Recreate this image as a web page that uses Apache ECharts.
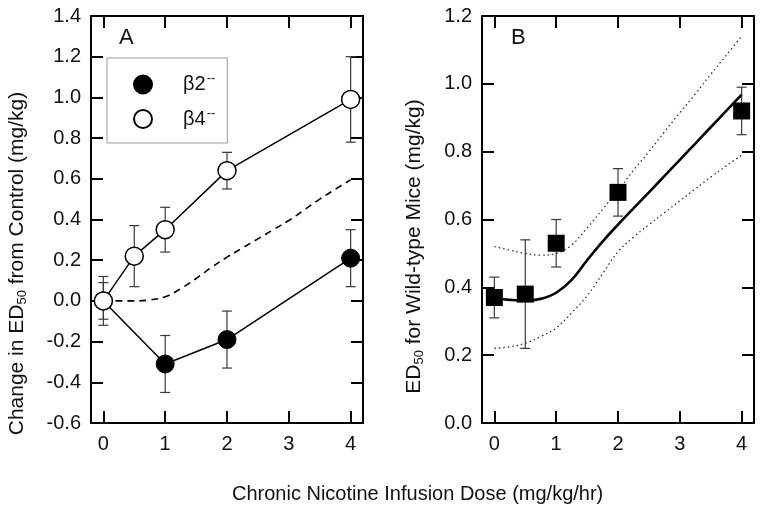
<!DOCTYPE html>
<html><head><meta charset="utf-8">
<script src="https://cdn.jsdelivr.net/npm/echarts@6/dist/echarts.min.js"></script>
<style>html,body{margin:0;padding:0;background:#fff}#c{width:764px;height:516px}</style>
</head><body><div id="c"></div>
<script>
// ---- data ----
const doseTicks = [0, 1, 2, 3, 4];
const aYTicks = [-0.6, -0.4, -0.2, 0, 0.2, 0.4, 0.6, 0.8, 1.0, 1.2, 1.4];
const bYTicks = [0, 0.2, 0.4, 0.6, 0.8, 1.0, 1.2];

const beta2Dose = [0, 1, 2, 4];
const beta2Mean = [0, -0.31, -0.19, 0.21];
const beta2Err = [0.09, 0.14, 0.14, 0.14];

const beta4Dose = [0, 0.5, 1, 2, 4];
const beta4Mean = [0, 0.22, 0.35, 0.64, 0.99];
const beta4Err = [0.12, 0.15, 0.11, 0.09, 0.21];

const curveDose = [0, 0.25, 0.5, 0.75, 1, 1.25, 1.5, 1.75, 2, 2.25, 2.5, 2.75, 3, 3.25, 3.5, 3.75, 4];
const predChange = [0, 0, 0, 0.005, 0.02, 0.06, 0.11, 0.165, 0.215, 0.26, 0.305, 0.35, 0.395, 0.447, 0.5, 0.548, 0.595];

const wtDose = [0, 0.5, 1, 2, 4];
const wtMean = [0.37, 0.38, 0.53, 0.68, 0.92];
const wtErr = [0.06, 0.16, 0.07, 0.07, 0.07];

const fitMean = [0.367, 0.363, 0.361, 0.366, 0.384, 0.422, 0.48, 0.535, 0.585, 0.633, 0.68, 0.728, 0.776, 0.824, 0.872, 0.92, 0.968];
const fitUpper = [0.52, 0.51, 0.50, 0.495, 0.50, 0.525, 0.575, 0.63, 0.685, 0.745, 0.80, 0.858, 0.915, 0.97, 1.028, 1.084, 1.14];
const fitLower = [0.22, 0.225, 0.235, 0.255, 0.28, 0.325, 0.375, 0.44, 0.505, 0.548, 0.585, 0.62, 0.655, 0.69, 0.725, 0.758, 0.79];

// ---- helpers ----
const FONT = "'Liberation Sans', Arial, sans-serif";
const zip = (xs, ys) => xs.map((x, i) => [x, ys[i]]);

function errorBars(xs, means, errs, axisIdx) {
  return {
    type: 'custom', xAxisIndex: axisIdx, yAxisIndex: axisIdx, z: 1, silent: true,
    encode: { x: 0, y: [1, 2] },
    data: xs.map((x, i) => [x, means[i] - errs[i], means[i] + errs[i]]),
    renderItem: (params, api) => {
      const lo = api.coord([api.value(0), api.value(1)]);
      const hi = api.coord([api.value(0), api.value(2)]);
      const w = 5;
      const st = { stroke: '#3a3a3a', lineWidth: 1.2 };
      return { type: 'group', children: [
        { type: 'line', shape: { x1: lo[0], y1: lo[1], x2: hi[0], y2: hi[1] }, style: st },
        { type: 'line', shape: { x1: lo[0] - w, y1: lo[1], x2: lo[0] + w, y2: lo[1] }, style: st },
        { type: 'line', shape: { x1: hi[0] - w, y1: hi[1], x2: hi[0] + w, y2: hi[1] }, style: st }
      ] };
    }
  };
}

function xAx(grid, pos, labels) {
  return {
    type: 'value', gridIndex: grid, position: pos, min: -0.2, max: 4.2,
    axisLine: { show: true, onZero: false, lineStyle: { color: '#000', width: 2 } },
    axisTick: { show: true, inside: true, length: 12, customValues: doseTicks, lineStyle: { color: '#000', width: 2 } },
    axisLabel: { show: labels, customValues: doseTicks, margin: 11, fontSize: 20, color: '#111', fontFamily: FONT },
    splitLine: { show: false }
  };
}
function yAx(grid, pos, labels, min, max, ticks, name, gap, shift) {
  const ax = {
    type: 'value', gridIndex: grid, position: pos, min: min, max: max,
    axisLine: { show: true, onZero: false, lineStyle: { color: '#000', width: 2 } },
    axisTick: { show: true, inside: true, length: 12, customValues: ticks, lineStyle: { color: '#000', width: 2 } },
    axisLabel: { show: labels, customValues: ticks, margin: 10, fontSize: 20, color: '#111', fontFamily: FONT,
      formatter: v => v.toFixed(1) },
    splitLine: { show: false }
  };
  if (name) {
    ax.name = name;
    ax.nameLocation = 'middle';
    ax.nameGap = gap;
    ax.nameTextStyle = { color: '#111', fontFamily: FONT, padding: [0, shift, 0, 0], rich: {
      n: { fontSize: 21, color: '#111', fontFamily: FONT },
      sub: { fontSize: 13, color: '#111', fontFamily: FONT, padding: [10, 0, 0, 0] }
    } };
  }
  return ax;
}

const chart = echarts.init(document.getElementById('c'), null, { renderer: 'canvas' });
chart.setOption({
  animation: false,
  backgroundColor: '#fff',
  textStyle: { fontFamily: FONT },
  title: [
    { text: 'A', left: 119, top: 27, padding: 0, textStyle: { fontSize: 22, fontWeight: 'normal', color: '#111', fontFamily: FONT } },
    { text: 'B', left: 511, top: 27, padding: 0, textStyle: { fontSize: 22, fontWeight: 'normal', color: '#111', fontFamily: FONT } },
    { text: 'Chronic Nicotine Infusion Dose (mg/kg/hr)', left: 232, top: 484, padding: 0,
      textStyle: { fontSize: 20, fontWeight: 'normal', color: '#111', fontFamily: FONT } }
  ],
  legend: {
    left: 107, top: 58, orient: 'vertical', data: ['β2', 'β4'], icon: 'circle',
    itemWidth: 18, itemHeight: 18, itemGap: 12, padding: [14, 12, 14, 26],
    borderColor: '#999', borderWidth: 1, selectedMode: false,
    formatter: n => '{b|' + n + '}{s|--}',
    textStyle: { rich: {
      b: { fontSize: 20, color: '#111', fontFamily: FONT, padding: [0, 0, 0, 26] },
      s: { fontSize: 13, color: '#111', fontFamily: FONT, padding: [0, 0, 12, 1] }
    } }
  },
  grid: [
    { left: 91, top: 16, width: 272, height: 407 },
    { left: 482, top: 16, width: 272, height: 407 }
  ],
  xAxis: [xAx(0, 'bottom', true), xAx(1, 'bottom', true), xAx(0, 'top', false), xAx(1, 'top', false)],
  yAxis: [
    yAx(0, 'left', true, -0.6, 1.4, aYTicks, '{n|Change in ED}{sub|50}{n| from Control (mg/kg)}', 62, 88),
    yAx(1, 'left', true, 0, 1.2, bYTicks, '{n|ED}{sub|50}{n| for Wild-type Mice (mg/kg)}', 56, 54),
    yAx(0, 'right', false, -0.6, 1.4, aYTicks),
    yAx(1, 'right', false, 0, 1.2, bYTicks)
  ],
  series: [
    errorBars(beta2Dose, beta2Mean, beta2Err, 0),
    errorBars(beta4Dose, beta4Mean, beta4Err, 0),
    { name: 'predicted', type: 'line', xAxisIndex: 0, yAxisIndex: 0, data: zip(curveDose, predChange),
      smooth: 0.4, symbol: 'none', z: 2,
      lineStyle: { color: '#000', width: 1.6, type: [7, 5] } },
    { name: 'β2', type: 'line', xAxisIndex: 0, yAxisIndex: 0, data: zip(beta2Dose, beta2Mean),
      symbol: 'circle', symbolSize: 18, z: 3,
      lineStyle: { color: '#000', width: 1.5 }, itemStyle: { color: '#000', borderColor: '#000', borderWidth: 1, opacity: 1 } },
    { name: 'β4', type: 'line', xAxisIndex: 0, yAxisIndex: 0, data: zip(beta4Dose, beta4Mean),
      symbol: 'circle', symbolSize: 18, z: 4,
      lineStyle: { color: '#000', width: 1.5 }, itemStyle: { color: '#fff', borderColor: '#000', borderWidth: 1.5, opacity: 1 } },

    errorBars(wtDose, wtMean, wtErr, 1),
    { name: 'upper', type: 'line', xAxisIndex: 1, yAxisIndex: 1, data: zip(curveDose, fitUpper),
      smooth: 0.4, symbol: 'none', z: 2,
      lineStyle: { color: '#333', width: 1.3, type: [1.5, 3] } },
    { name: 'lower', type: 'line', xAxisIndex: 1, yAxisIndex: 1, data: zip(curveDose, fitLower),
      smooth: 0.4, symbol: 'none', z: 2,
      lineStyle: { color: '#333', width: 1.3, type: [1.5, 3] } },
    { name: 'fit', type: 'line', xAxisIndex: 1, yAxisIndex: 1, data: zip(curveDose, fitMean),
      smooth: 0.4, symbol: 'none', z: 3,
      lineStyle: { color: '#000', width: 2.6 } },
    { name: 'wild-type', type: 'scatter', xAxisIndex: 1, yAxisIndex: 1, data: zip(wtDose, wtMean),
      symbol: 'rect', symbolSize: 17, z: 4, itemStyle: { color: '#000', opacity: 1 } }
  ]
});
</script>
</body></html>
